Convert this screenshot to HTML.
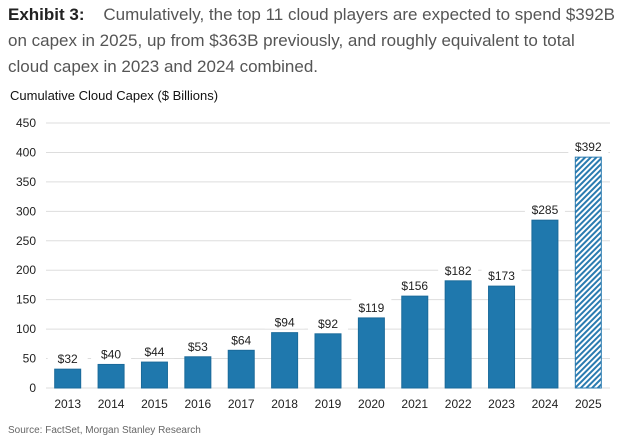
<!DOCTYPE html>
<html><head><meta charset="utf-8"><style>
body{margin:0;width:621px;height:445px;background:#fff;font-family:"Liberation Sans",sans-serif;overflow:hidden}
#title{position:absolute;left:8px;top:2px;width:612px;font-size:17px;line-height:26px;color:#555}
#title b{color:#222}
#sub{position:absolute;left:10px;top:88px;font-size:13px;color:#111}
#src{position:absolute;left:8px;top:425px;font-size:10px;color:#666}
svg{position:absolute;left:0;top:0}
</style></head><body>
<div id="title"><b>Exhibit 3:</b>&nbsp;&nbsp;&nbsp;&nbsp;Cumulatively, the top 11 cloud players are expected to spend $392B on capex in 2025, up from $363B previously, and roughly equivalent to total cloud capex in 2023 and 2024 combined.</div>
<div id="sub">Cumulative Cloud Capex ($ Billions)</div>
<svg id="chart" width="621" height="445">
<defs><pattern id="hatch" width="4" height="4" patternUnits="userSpaceOnUse" patternTransform="rotate(45)"><rect width="4" height="4" fill="#fff"/><rect width="2" height="4" fill="#2a7bb0"/></pattern></defs>
</svg>
<div id="src">Source: FactSet, Morgan Stanley Research</div>
<script>
const categories=["2013","2014","2015","2016","2017","2018","2019","2020","2021","2022","2023","2024","2025"];
const values=[32,40,44,53,64,94,92,119,156,182,173,285,392];
const valueLabels=["$32","$40","$44","$53","$64","$94","$92","$119","$156","$182","$173","$285","$392"];
const yTicks=[0,50,100,150,200,250,300,350,400,450];
const svg=document.getElementById('chart');
const NS='http://www.w3.org/2000/svg';
const y0=388,yTop=123,yMax=450,x0=46,x1=610;
const y=v=>y0-(v/yMax)*(y0-yTop);
const step=(x1-x0)/categories.length;
const xc=i=>x0+step*(i+0.5);
function mk(t,a){const e=document.createElementNS(NS,t);for(const k in a)e.setAttribute(k,a[k]);svg.appendChild(e);return e;}
yTicks.forEach(v=>{
 const l=mk('line',{x1:x0,x2:x1,y1:y(v),y2:y(v),stroke:'#ddd','stroke-width':1});
 
 
 const t=mk('text',{x:36,y:y(v)+4,'text-anchor':'end','font-size':12,fill:'#222'});
 t.textContent=v;
 
 
});
const bw=26;
categories.forEach((c,i)=>{
 const last=i===categories.length-1;
 const r=mk('rect',{x:xc(i)-bw/2,y:y(values[i]),width:bw,height:y0-y(values[i]),fill:last?'url(#hatch)':'#1f78ad',stroke:last?'#2a7bb0':'#1a6a9a','stroke-width':1});
 
 
 const bg=mk('rect',{x:xc(i)-20,y:y(values[i])-19,width:40,height:15,fill:'#fff'});
 
 
 const t=mk('text',{x:xc(i),y:y(values[i])-6,'text-anchor':'middle','font-size':12,fill:'#222'});
 t.textContent=valueLabels[i];
 
 
 const xl=mk('text',{x:xc(i),y:408,'text-anchor':'middle','font-size':12,fill:'#222'});
 xl.textContent=c;
 
 
});
</script>
</body></html>
